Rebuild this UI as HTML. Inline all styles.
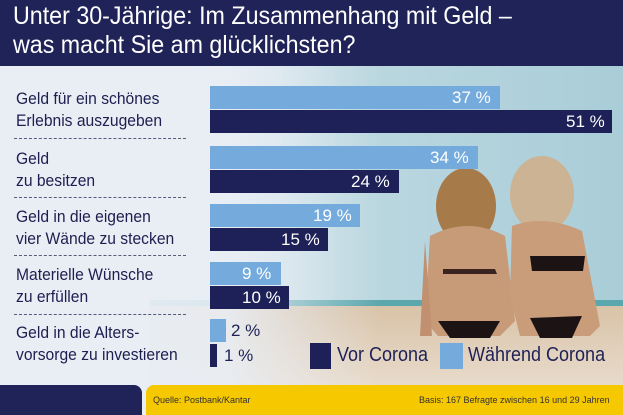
<!DOCTYPE html>
<html><head><meta charset="utf-8"><style>
body{margin:0;width:623px;height:415px;overflow:hidden;font-family:"Liberation Sans",sans-serif;position:relative;background:#e9eef5}
.abs{position:absolute}
.lbl{position:absolute;left:16px;font-size:17px;line-height:22px;color:#1c1f4f;transform:scaleX(.92);transform-origin:left;white-space:nowrap}
.bar{position:absolute;left:210px;height:23px}
.lt{background:#74abdc}.dk{background:#1e2157}
.v{position:absolute;font-size:17px;line-height:23px;color:#fff;white-space:nowrap}
.sep{position:absolute;left:14px;width:172px;border-top:1px dashed #555a78}
.lg{position:absolute;top:343px;font-size:20px;line-height:25px;color:#1e2157;transform:scaleX(.9);transform-origin:left;white-space:nowrap}
</style></head><body>
<svg class="abs" style="left:0;top:66px" width="623" height="320">
<defs>
<linearGradient id="bg" x1="0" x2="1" y1="0" y2="0">
<stop offset="0" stop-color="#e9eef5"/><stop offset="0.3" stop-color="#e6eef3"/><stop offset="0.55" stop-color="#bcd8e0"/><stop offset="1" stop-color="#a9cdd8"/></linearGradient>
<linearGradient id="sand" x1="0" x2="0" y1="0" y2="1"><stop offset="0" stop-color="#d9c3a8"/><stop offset="1" stop-color="#e8dbcb"/></linearGradient>
<linearGradient id="fadeL" x1="0" x2="1"><stop offset="0" stop-color="#e9eef5"/><stop offset="0.6" stop-color="#e9eef5" stop-opacity="0.9"/><stop offset="1" stop-color="#e9eef5" stop-opacity="0"/></linearGradient>
</defs>
<rect width="623" height="320" fill="url(#bg)"/>
<rect x="150" y="234" width="473" height="8" fill="#5aa7ad"/>
<rect x="150" y="240" width="473" height="80" fill="url(#sand)"/>
<rect x="0" y="0" width="380" height="320" fill="url(#fadeL)"/>
<ellipse cx="466" cy="140" rx="30" ry="38" fill="#a77a4a"/>
<path d="M430 170 Q468 150 505 170 L515 255 L500 270 L438 270 L425 255 Z" fill="#c79a78"/>
<path d="M425 175 L420 270 L432 270 Z" fill="#c09070"/>
<path d="M443 203 L495 203 L497 208 L443 208Z" fill="#3a2420"/>
<path d="M438 255 L500 255 L490 272 L450 272Z" fill="#1c1414"/>
<ellipse cx="542" cy="128" rx="32" ry="38" fill="#cbb394"/>
<path d="M512 160 Q545 148 582 165 L600 260 L590 270 L520 270 L510 230 Z" fill="#c99c7a"/>
<path d="M530 190 L585 190 L583 205 L532 205Z" fill="#1c1414"/>
<path d="M530 252 L582 250 L572 272 L540 272Z" fill="#1c1414"/>
</svg>
<div class="abs" style="left:0;top:0;width:623px;height:66px;background:#1f2357"></div>
<div class="abs" style="left:13px;top:2px;font-size:25px;line-height:29px;color:#fff;transform:scaleX(.93);transform-origin:left;white-space:nowrap">Unter 30-Jährige: Im Zusammenhang mit Geld –<br>was macht Sie am glücklichsten?</div>

<div class="lbl" style="top:88px">Geld für ein schönes<br>Erlebnis auszugeben</div>
<div class="lbl" style="top:148px">Geld<br>zu besitzen</div>
<div class="lbl" style="top:206px">Geld in die eigenen<br>vier Wände zu stecken</div>
<div class="lbl" style="top:264px">Materielle Wünsche<br>zu erfüllen</div>
<div class="lbl" style="top:322px">Geld in die Alters-<br>vorsorge zu investieren</div>
<div class="sep" style="top:138px"></div><div class="sep" style="top:197px"></div><div class="sep" style="top:255px"></div><div class="sep" style="top:314px"></div>

<div class="bar lt" style="top:86px;width:290px"></div><div class="v" style="top:86px;left:452px">37 %</div>
<div class="bar dk" style="top:110px;width:402px"></div><div class="v" style="top:110px;left:566px">51 %</div>
<div class="bar lt" style="top:146px;width:268px"></div><div class="v" style="top:146px;left:430px">34 %</div>
<div class="bar dk" style="top:170px;width:189px"></div><div class="v" style="top:170px;left:351px">24 %</div>
<div class="bar lt" style="top:204px;width:150px"></div><div class="v" style="top:204px;left:313px">19 %</div>
<div class="bar dk" style="top:228px;width:118px"></div><div class="v" style="top:228px;left:281px">15 %</div>
<div class="bar lt" style="top:262px;width:71px"></div><div class="v" style="top:262px;left:242px">9 %</div>
<div class="bar dk" style="top:286px;width:79px"></div><div class="v" style="top:286px;left:242px">10 %</div>
<div class="bar lt" style="top:319px;width:16px"></div><div class="v" style="top:319px;left:231px;color:#1e2157">2 %</div>
<div class="bar dk" style="top:344px;width:7px"></div><div class="v" style="top:344px;left:224px;color:#1e2157">1 %</div>

<div class="abs" style="left:310px;top:343px;width:21px;height:26px;background:#1e2157"></div>
<div class="lg" style="left:337px">Vor Corona</div>
<div class="abs" style="left:440px;top:343px;width:23px;height:26px;background:#74abdc"></div>
<div class="lg" style="left:468px">Während Corona</div>

<div class="abs" style="left:0;top:385px;width:142px;height:30px;background:#1f2357;border-top-right-radius:8px"></div>
<div class="abs" style="left:146px;top:385px;width:477px;height:30px;background:#f6c800;border-top-left-radius:8px"></div>
<div class="abs" style="left:153px;top:395px;font-size:9px;color:#333">Quelle: Postbank/Kantar</div>
<div class="abs" style="left:419px;top:395px;font-size:9px;color:#333">Basis: 167 Befragte zwischen 16 und 29 Jahren</div>
</body></html>
